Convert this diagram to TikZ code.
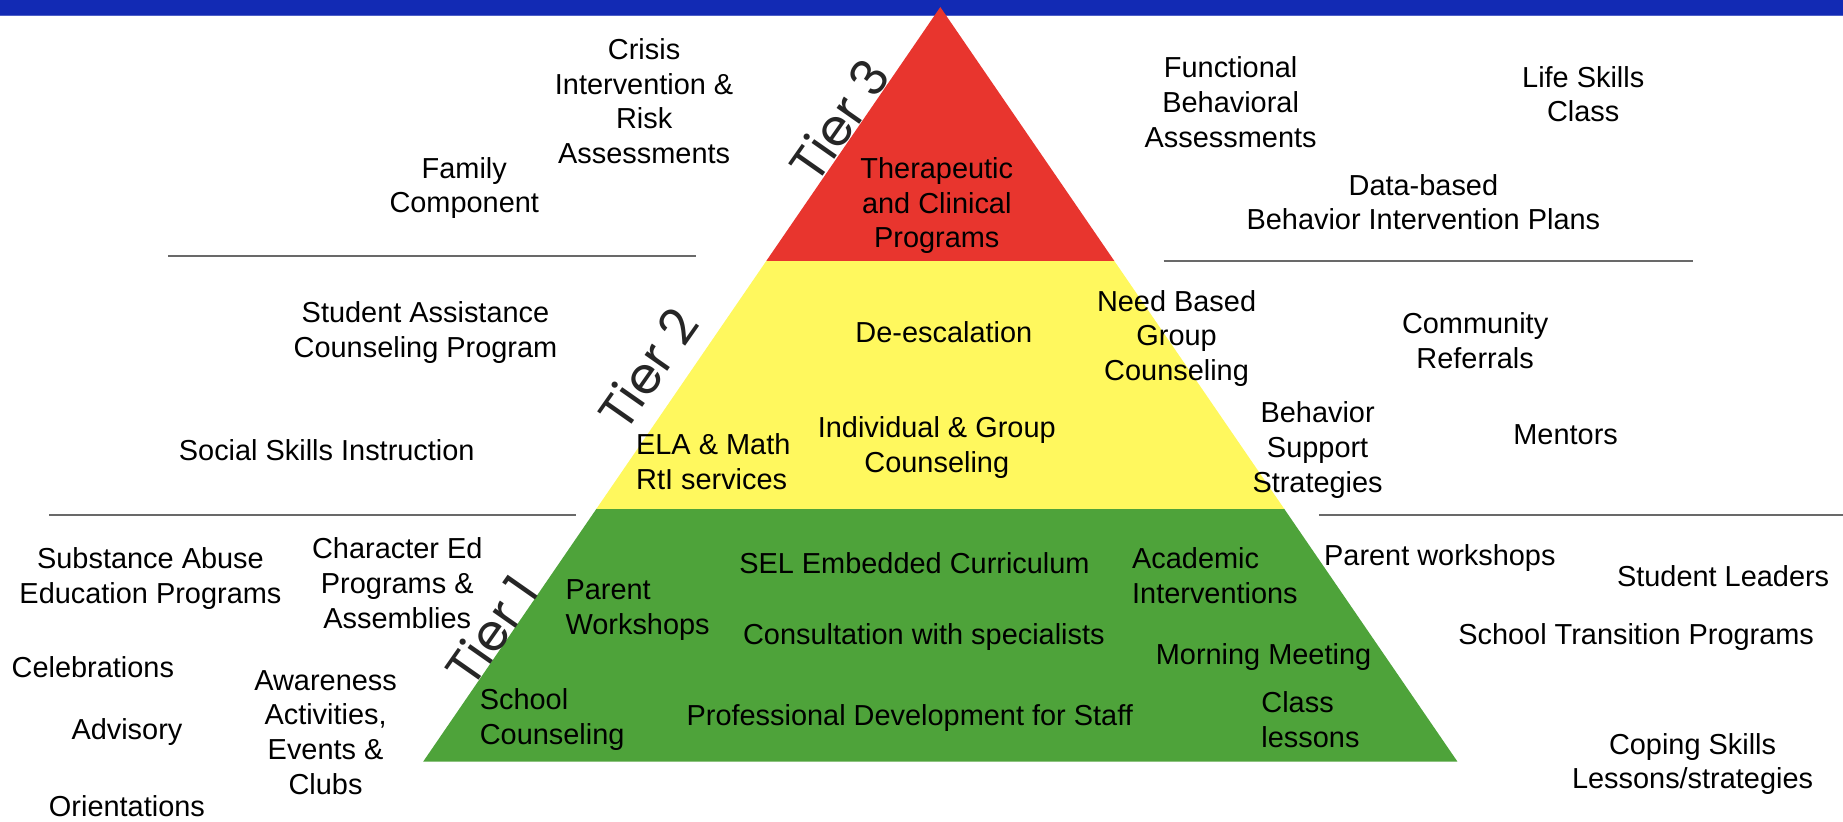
\documentclass[tikz,border=0pt]{standalone}
\usepackage{fontspec}
\setmainfont{Liberation Sans}
\newfontfamily\tierfont{Poppins}
\usetikzlibrary{calc}
\definecolor{barblue}{RGB}{18,42,180}
\definecolor{tierred}{RGB}{232,53,46}
\definecolor{tieryellow}{RGB}{255,248,94}
\definecolor{tiergreen}{RGB}{78,163,58}
\definecolor{rulegray}{RGB}{105,105,105}
\newcommand{\itemsize}{\fontsize{24.6}{29.5}\selectfont}

\begin{document}
\begin{tikzpicture}[x=1pt, y=-1pt,
    item/.style={align=center, font=\itemsize, inner sep=0pt},
    leftitem/.style={item, align=left, anchor=west},
    tierlabel/.style={font=\tierfont\fontsize{43}{43}\selectfont, rotate=55, inner sep=0pt, text=black!85},
    divider/.style={rulegray, line width=1.6pt}]
    \useasboundingbox (0,0) rectangle (1568,699);

    % top banner
    \fill[barblue] (0,0) rectangle (1568,14);
    \draw[barblue!75!white, line width=1pt] (0,13.5) -- (1568,13.5);

    % pyramid
    \coordinate (apex) at (800,6);
    \coordinate (baseL) at (360,648);
    \coordinate (baseR) at (1240,648);
    \coordinate (redL) at ($(apex)!0.3364!(baseL)$);
    \coordinate (redR) at ($(apex)!0.3364!(baseR)$);
    \coordinate (yelL) at ($(apex)!0.6651!(baseL)$);
    \coordinate (yelR) at ($(apex)!0.6651!(baseR)$);
    \fill[tiergreen] (yelL) -- (yelR) -- (baseR) -- (baseL) -- cycle;
    \fill[tieryellow] (redL) -- (redR) -- (yelR) -- (yelL) -- cycle;
    \fill[tierred] (apex) -- (redR) -- (redL) -- cycle;

    % tier labels
    \node[tierlabel] (tier3) at (714,102) {Tier 3};
    \node[tierlabel] (tier2) at (551,313) {Tier 2};
    \node[tierlabel] (tier1) at (418,536) {Tier 1};

    % dividers
    \draw[divider] (143,218) -- (592,218);
    \draw[divider] (990,222) -- (1440,222);
    \draw[divider] (42,438) -- (490,438);
    \draw[divider] (1122,438) -- (1568,438);

    % tier 3 items
    \node[item] (therapy) at (797,175) {Therapeutic\\and Clinical\\Programs};
    \node[item] (crisis) at (548,86) {Crisis\\Intervention \&\\Risk\\Assessments};
    \node[item] (family) at (395,160) {Family\\Component};
    \node[item] (fba) at (1047,87) {Functional\\Behavioral\\Assessments};
    \node[item] (lifeskills) at (1347,80) {Life Skills\\Class};
    \node[item] (bip) at (1211,172) {Data-based\\Behavior Intervention Plans};

    % tier 2 items
    \node[item] (deesc) at (803,283) {De-escalation};
    \node[item] (indiv) at (797,381) {Individual \& Group\\Counseling};
    \node[leftitem] (rti) at (541,393) {ELA \& Math\\RtI services};
    \node[item] (needgroup) at (1001,288) {Need Based\\Group\\Counseling};
    \node[item] (studassist) at (362,283) {Student Assistance\\Counseling Program};
    \node[item] (socialskills) at (278,383) {Social Skills Instruction};
    \node[item] (community) at (1255,290) {Community\\Referrals};
    \node[item] (behsupport) at (1121,383) {Behavior\\Support\\Strategies};
    \node[item] (mentors) at (1332,370) {Mentors};

    % tier 1 items
    \node[item] (sel) at (778,479) {SEL Embedded Curriculum};
    \node[leftitem] (parentws) at (481,519) {Parent\\Workshops};
    \node[leftitem] (academic) at (963,490) {Academic\\Interventions};
    \node[item] (consult) at (786,542) {Consultation with specialists};
    \node[item] (morning) at (1075,559) {Morning Meeting};
    \node[leftitem] (schoolcouns) at (408,612) {School\\Counseling};
    \node[item] (profdev) at (774,611) {Professional Development for Staff};
    \node[leftitem] (classlessons) at (1073,612) {Class\\lessons};
    \node[item] (substance) at (128,492) {Substance Abuse\\Education Programs};
    \node[item] (charactered) at (338,496) {Character Ed\\Programs \&\\Assemblies};
    \node[item] (celebrations) at (79,568) {Celebrations};
    \node[item] (advisory) at (108,623) {Advisory};
    \node[item] (orientations) at (108,686) {Orientations};
    \node[item] (awareness) at (277,623) {Awareness\\Activities,\\Events \&\\Clubs};
    \node[item] (parentshops) at (1225,475) {Parent workshops};
    \node[item] (leaders) at (1466,490) {Student Leaders};
    \node[item] (transition) at (1392,542) {School Transition Programs};
    \node[item] (coping) at (1440,650) {Coping Skills\\Lessons/strategies};
\end{tikzpicture}
\end{document}
